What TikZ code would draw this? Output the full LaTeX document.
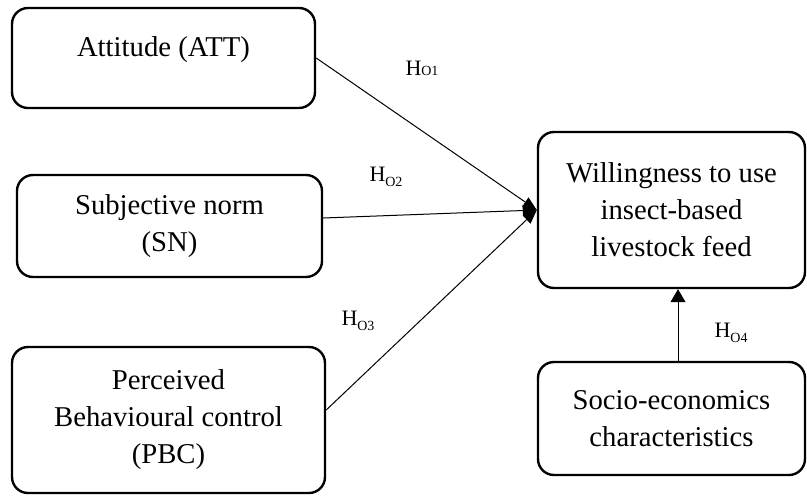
\documentclass[tikz,border=0pt]{standalone}
\usepackage{fontspec}
\setmainfont{Liberation Serif}
\usetikzlibrary{arrows.meta,calc}
\begin{document}
\begin{tikzpicture}[x=1pt,y=-1pt,
  box/.style={draw,line width=2.4pt,rounded corners=16pt,inner sep=0pt,align=center,
    font=\fontsize{28.7}{37}\selectfont},
  conn/.style={line width=1pt,-{Triangle[length=14pt,width=11pt]}},
  hyp/.style={font=\fontsize{22}{22}\selectfont,inner sep=0pt}]
\useasboundingbox (0,0) rectangle (807,496);
\node[box,minimum width=303pt,minimum height=100pt] (att) at (163.5,58) {};
\node[inner sep=0pt,font=\fontsize{28.7}{37}\selectfont] (atttext) at (163.5,50) {Attitude (ATT)};
\node[box,minimum width=305pt,minimum height=102pt] (sn) at (169.5,226) {Subjective norm\\(SN)};
\node[box,minimum width=313pt,minimum height=146pt] (pbc) at (168.5,420) {Perceived\\Behavioural control\\(PBC)};
\node[box,minimum width=267pt,minimum height=156pt] (w) at (671.5,210) {Willingness to use\\insect-based\\livestock feed};
\node[box,minimum width=267pt,minimum height=113pt] (se) at (671.5,418.5) {Socio-economics\\characteristics};
\draw[conn] (att.east) -- (w.west);
\draw[conn] ($(sn.east)+(0,-8)$) -- (w.west);
\draw[conn] ($(pbc.east)+(0,-10)$) -- (w.west);
\coordinate (s4) at ($(se.north)+(6.5,0)$);
\draw[line width=1pt,-{Triangle[length=13pt,width=15pt]}] (s4) -- (s4 |- w.south);
\node[hyp] (h1) at (422,68) {H{\fontsize{14}{14}\selectfont O1}};
\node[hyp] (h2) at (386,177) {H\raisebox{-5pt}{\fontsize{14}{14}\selectfont O2}};
\node[hyp] (h3) at (358,321) {H\raisebox{-5pt}{\fontsize{14}{14}\selectfont O3}};
\node[hyp] (h4) at (731,333) {H\raisebox{-5pt}{\fontsize{14}{14}\selectfont O4}};
\end{tikzpicture}
\end{document}
